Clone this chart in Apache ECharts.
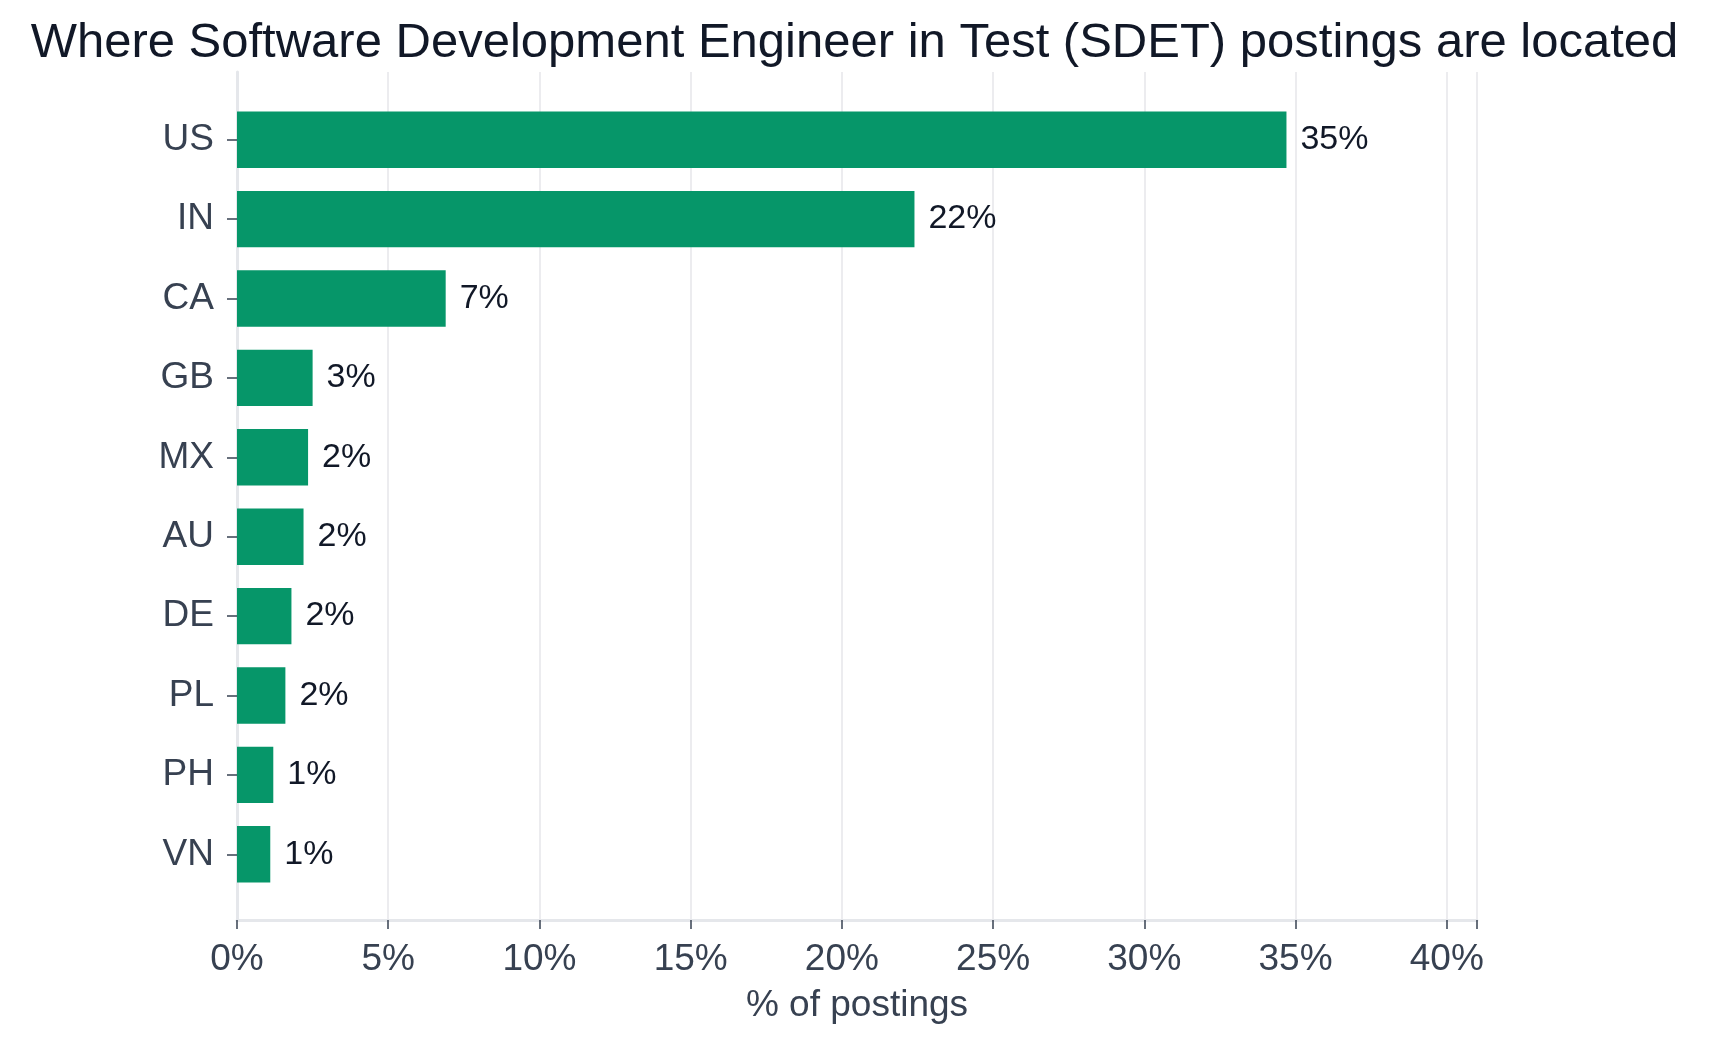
<!DOCTYPE html>
<html>
<head>
<meta charset="utf-8">
<title>SDET postings by country</title>
<script src="https://cdn.jsdelivr.net/npm/echarts@6/dist/echarts.min.js"></script>
<style>
  html, body { margin: 0; padding: 0; background: #fff; }
  #chart { width: 1709px; height: 1043px; }
</style>
</head>
<body>
<div id="chart"></div>
<script>
const countries = ['US', 'IN', 'CA', 'GB', 'MX', 'AU', 'DE', 'PL', 'PH', 'VN'];
const shares = [34.7, 22.4, 6.9, 2.5, 2.35, 2.2, 1.8, 1.6, 1.2, 1.1];
const xTicks = [0, 5, 10, 15, 20, 25, 30, 35, 40];

const FONT = '"Liberation Sans", Arial, Helvetica, sans-serif';
const left = 237;
const right = 232;

const chart = echarts.init(document.getElementById('chart'));

chart.setOption({
  animation: false,
  backgroundColor: '#ffffff',
  textStyle: { fontFamily: FONT },
  title: {
    text: 'Where Software Development Engineer in Test (SDET) postings are located',
    left: 'center',
    top: 14,
    textStyle: { fontFamily: FONT, fontSize: 49, fontWeight: 'normal', color: '#111827' },
  },
  grid: [
    // frame: gridlines, x axis, zero line
    { left, right, top: 72, bottom: 123 },
    // bars
    { left, right, top: 100, bottom: 149 },
  ],
  xAxis: [
    {
      type: 'value',
      gridIndex: 0,
      min: 0,
      max: 41,
      interval: 5,
      axisLine: { show: true, lineStyle: { color: '#e5e7eb', width: 3 } },
      axisTick: { show: true, length: 9, lineStyle: { color: '#374151', width: 1.5 } },
      axisLabel: {
        fontFamily: FONT,
        fontSize: 37,
        color: '#374151',
        margin: 21,
        formatter: (v) => (xTicks.includes(v) ? `${v}%` : ''),
      },
      splitLine: { show: true, lineStyle: { color: '#ececef', width: 2 } },
      name: '% of postings',
      nameLocation: 'middle',
      nameGap: 67,
      nameTextStyle: { fontFamily: FONT, fontSize: 37, color: '#374151' },
    },
    {
      type: 'value',
      gridIndex: 1,
      min: 0,
      max: 41,
      show: false,
    },
  ],
  yAxis: [
    {
      type: 'value',
      gridIndex: 0,
      min: 0,
      max: 1,
      axisLine: { show: true, lineStyle: { color: '#e5e7eb', width: 3 } },
      axisTick: { show: false },
      axisLabel: { show: false },
      splitLine: { show: false },
    },
    {
      type: 'category',
      gridIndex: 1,
      inverse: true,
      data: countries,
      axisLine: { show: false },
      axisTick: { show: true, alignWithLabel: true, length: 10, lineStyle: { color: '#374151', width: 1.5 } },
      axisLabel: { fontFamily: FONT, fontSize: 37, color: '#374151', margin: 23 },
      splitLine: { show: false },
    },
  ],
  series: [
    {
      type: 'bar',
      xAxisIndex: 1,
      yAxisIndex: 1,
      data: shares,
      barCategoryGap: '29%',
      itemStyle: { color: '#069669' },
      label: {
        show: true,
        position: 'right',
        distance: 14,
        fontFamily: FONT,
        fontSize: 34,
        color: '#111827',
        formatter: (p) => `${Math.round(p.value)}%`,
      },
    },
  ],
});
</script>
</body>
</html>
